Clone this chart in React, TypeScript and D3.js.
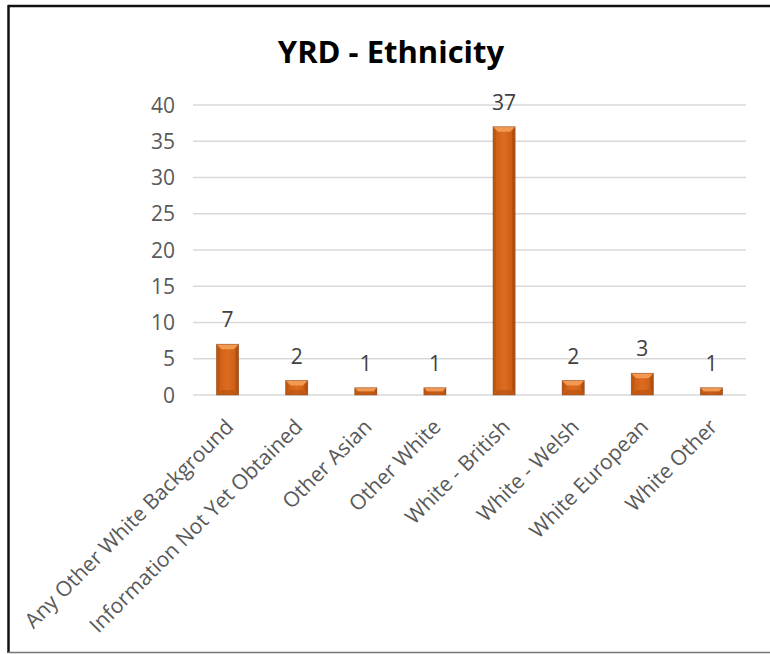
import React from "react";
import * as d3 from "d3";

const categories = [
  "Any Other White Background",
  "Information Not Yet Obtained",
  "Other Asian",
  "Other White",
  "White - British",
  "White - Welsh",
  "White European",
  "White Other",
];
const values = [7, 2, 1, 1, 37, 2, 3, 1];
const yTicks = [0, 5, 10, 15, 20, 25, 30, 35, 40];
const title = "YRD - Ethnicity";

const W = 770;
const H = 654;
const plot = { left: 193, right: 746, top: 105, bottom: 395 };
const FONT = "'Open Sans', 'DejaVu Sans', sans-serif";

export default function App() {
  const x = d3
    .scaleBand<string>()
    .domain(categories)
    .range([plot.left, plot.right])
    .paddingInner(0.68)
    .paddingOuter(0.34);
  const y = d3.scaleLinear().domain([0, 40]).range([plot.bottom, plot.top]);

  return (
    <svg
      width={W}
      height={H}
      style={{ position: "absolute", left: 0, top: 0, background: "#fff" }}
    >
      <defs>
        <linearGradient id="barGrad" x1="0" x2="1" y1="0" y2="0">
          <stop offset="0" stopColor="#c65b14" />
          <stop offset="0.5" stopColor="#de6c1f" />
          <stop offset="1" stopColor="#c45914" />
        </linearGradient>
      </defs>
      <rect x={0} y={0} width={W} height={H} fill="#fff" />
      {/* frame */}
      <line x1={8.5} x2={8.5} y1={5} y2={653} stroke="#111" strokeWidth={2.5} />
      <line x1={8} x2={W} y1={6} y2={6} stroke="#111" strokeWidth={2.5} />
      <line x1={8} x2={W} y1={652.5} y2={652.5} stroke="#777" strokeWidth={1.5} />

      <text
        x={391}
        y={63}
        textAnchor="middle"
        fontFamily={FONT}
        fontWeight="bold"
        fontSize={31}
        fill="#000"
      >
        {title}
      </text>

      {yTicks.map((t) => (
        <g key={t}>
          <line
            x1={plot.left}
            x2={plot.right}
            y1={y(t)}
            y2={y(t)}
            stroke="#d9d9d9"
            strokeWidth={1.3}
          />
          <text
            x={175}
            y={y(t)}
            dy="0.36em"
            textAnchor="end"
            fontFamily={FONT}
            fontSize={21}
            fill="#595959"
          >
            {t}
          </text>
        </g>
      ))}

      {categories.map((c, i) => {
        const x0 = x(c)!;
        const bw = x.bandwidth();
        const x1 = x0 + bw;
        const y0 = y(values[i]);
        const y1 = y(0);
        const h = y1 - y0;
        const b = Math.min(5, h / 2, bw / 2);
        const cx = x0 + bw / 2;
        return (
          <g key={c}>
            <rect x={x0} y={y0} width={bw} height={h} fill="url(#barGrad)" />
            <polygon
              points={`${x0},${y0} ${x1},${y0} ${x1 - b},${y0 + b} ${x0 + b},${y0 + b}`}
              fill="#f29a52"
            />
            <polygon
              points={`${x0},${y0} ${x0 + b * 0.6},${y0 + b} ${x0 + b * 0.6},${y1 - b} ${x0},${y1}`}
              fill="#b9530f"
              opacity={0.7}
            />
            <polygon
              points={`${x1},${y0} ${x1 - b * 0.6},${y0 + b} ${x1 - b * 0.6},${y1 - b} ${x1},${y1}`}
              fill="#a84a0c"
              opacity={0.7}
            />
            <polygon
              points={`${x0},${y1} ${x1},${y1} ${x1 - b},${y1 - b} ${x0 + b},${y1 - b}`}
              fill="#b5520f"
              opacity={0.6}
            />
            <rect
              x={x0}
              y={y0}
              width={bw}
              height={h}
              fill="none"
              stroke="#8a5030"
              strokeOpacity={0.6}
              strokeWidth={0.8}
            />
            <text
              x={cx}
              y={y0 - 17}
              textAnchor="middle"
              fontFamily={FONT}
              fontSize={21}
              fill="#404040"
            >
              {values[i]}
            </text>
            <text
              transform={`translate(${cx + 2},${y1 + 28}) rotate(-45)`}
              dy="0.35em"
              textAnchor="end"
              fontFamily={FONT}
              fontSize={21}
              fill="#595959"
            >
              {c}
            </text>
          </g>
        );
      })}
    </svg>
  );
}
